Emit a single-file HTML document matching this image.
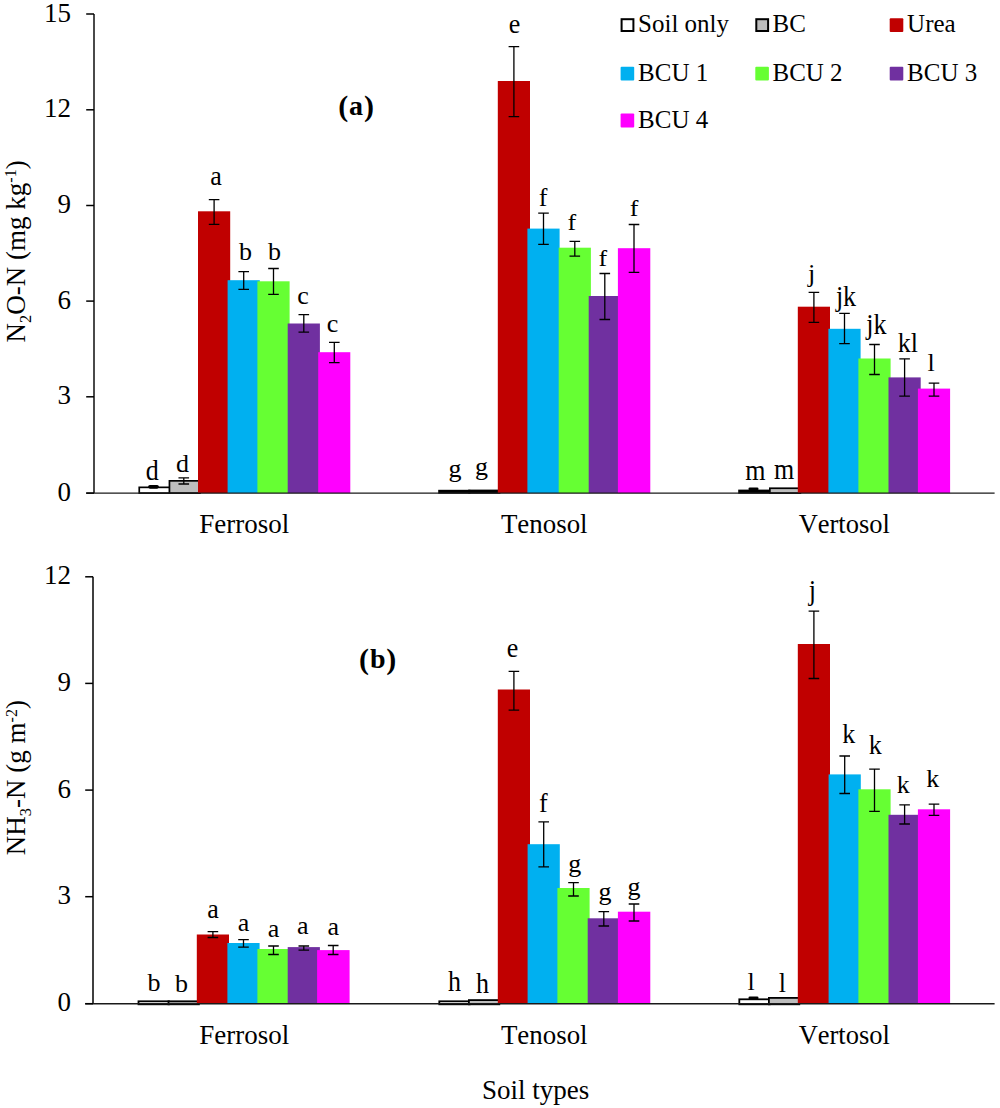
<!DOCTYPE html><html><head><meta charset="utf-8"><title>N2O-N and NH3-N by soil type</title><style>html,body{margin:0;padding:0;background:#fff;width:1000px;height:1108px;overflow:hidden}svg{display:block}text{font-family:"Liberation Serif", serif;fill:#000;font-kerning:none}</style></head><body>
<svg width="1000" height="1108" viewBox="0 0 1000 1108">
<rect width="1000" height="1108" fill="#fff"/>
<rect x="139.25" y="487.35" width="30.5" height="5.75" fill="#ffffff" stroke="#000" stroke-width="1.7"/>
<rect x="169.45" y="480.85" width="30.5" height="12.25" fill="#bdbdbd" stroke="#000" stroke-width="1.7"/>
<rect x="198" y="211.3" width="32.2" height="281.8" fill="#c00000"/>
<rect x="227.6" y="280.2" width="32.2" height="212.9" fill="#00b0f0"/>
<rect x="257.4" y="281.3" width="32.2" height="211.8" fill="#66ff33"/>
<rect x="287.7" y="323.5" width="32.2" height="169.6" fill="#7030a0"/>
<rect x="318.2" y="352.2" width="32.1" height="140.9" fill="#ff00ff"/>
<rect x="438.2" y="489.8" width="32.2" height="3.9" fill="#000"/>
<rect x="468.2" y="489.6" width="32.2" height="4.1" fill="#000"/>
<rect x="497.8" y="81" width="32.2" height="412.1" fill="#c00000"/>
<rect x="527.4" y="228.6" width="32.2" height="264.5" fill="#00b0f0"/>
<rect x="558.7" y="247.7" width="32.2" height="245.4" fill="#66ff33"/>
<rect x="588.7" y="296" width="32.2" height="197.1" fill="#7030a0"/>
<rect x="617.9" y="248.2" width="32.4" height="244.9" fill="#ff00ff"/>
<rect x="738.2" y="489.6" width="32.2" height="4.1" fill="#000"/>
<rect x="769.85" y="488.25" width="30.5" height="4.85" fill="#bdbdbd" stroke="#000" stroke-width="1.7"/>
<rect x="797.8" y="306.7" width="32.2" height="186.4" fill="#c00000"/>
<rect x="828.4" y="328.8" width="32.2" height="164.3" fill="#00b0f0"/>
<rect x="858.4" y="358.5" width="32.2" height="134.6" fill="#66ff33"/>
<rect x="888.5" y="377.4" width="32.2" height="115.7" fill="#7030a0"/>
<rect x="917.9" y="388.6" width="32.2" height="104.5" fill="#ff00ff"/>
<path d="M149.93 486.85H157.12" stroke="#000" stroke-width="3.6" stroke-linecap="round"/>
<path d="M183.78 477.8V484M178.47 477.8H189.08M178.47 484H189.08" stroke="#000" stroke-width="1.3" fill="none"/>
<path d="M214.1 199.6V224.3M208.8 199.6H219.4M208.8 224.3H219.4" stroke="#000" stroke-width="1.3" fill="none"/>
<path d="M243.7 271.7V289.4M238.4 271.7H249M238.4 289.4H249" stroke="#000" stroke-width="1.3" fill="none"/>
<path d="M273.5 268.5V294.4M268.2 268.5H278.8M268.2 294.4H278.8" stroke="#000" stroke-width="1.3" fill="none"/>
<path d="M303.8 314.6V332.1M298.5 314.6H309.1M298.5 332.1H309.1" stroke="#000" stroke-width="1.3" fill="none"/>
<path d="M334.3 342.3V362.6M329 342.3H339.6M329 362.6H339.6" stroke="#000" stroke-width="1.3" fill="none"/>
<path d="M513.9 46.7V116.6M508.6 46.7H519.2M508.6 116.6H519.2" stroke="#000" stroke-width="1.3" fill="none"/>
<path d="M543.5 213.2V244.3M538.2 213.2H548.8M538.2 244.3H548.8" stroke="#000" stroke-width="1.3" fill="none"/>
<path d="M574.8 241.3V256.2M569.5 241.3H580.1M569.5 256.2H580.1" stroke="#000" stroke-width="1.3" fill="none"/>
<path d="M604.8 273.5V319.5M599.5 273.5H610.1M599.5 319.5H610.1" stroke="#000" stroke-width="1.3" fill="none"/>
<path d="M634 224.5V272.3M628.7 224.5H639.3M628.7 272.3H639.3" stroke="#000" stroke-width="1.3" fill="none"/>
<path d="M749.92 489H757.12" stroke="#000" stroke-width="2.9" stroke-linecap="round"/>
<path d="M813.9 292.3V322.4M808.6 292.3H819.2M808.6 322.4H819.2" stroke="#000" stroke-width="1.3" fill="none"/>
<path d="M844.5 313.4V343.6M839.2 313.4H849.8M839.2 343.6H849.8" stroke="#000" stroke-width="1.3" fill="none"/>
<path d="M874.5 344.5V374.5M869.2 344.5H879.8M869.2 374.5H879.8" stroke="#000" stroke-width="1.3" fill="none"/>
<path d="M904.6 358.9V396.1M899.3 358.9H909.9M899.3 396.1H909.9" stroke="#000" stroke-width="1.3" fill="none"/>
<path d="M934 383.2V396.1M928.7 383.2H939.3M928.7 396.1H939.3" stroke="#000" stroke-width="1.3" fill="none"/>
<path d="M94 14V493.1" stroke="#4a4a4a" stroke-width="2" fill="none"/>
<path d="M86.2 493.1H994.6" stroke="#1a1a1a" stroke-width="1.4" fill="none"/>
<path d="M86.2 14H94" stroke="#000" stroke-width="1.5"/>
<text x="71.1" y="21.6" text-anchor="end" font-size="27">15</text>
<path d="M86.2 109.8H94" stroke="#000" stroke-width="1.5"/>
<text x="71.1" y="117.4" text-anchor="end" font-size="27">12</text>
<path d="M86.2 205.5H94" stroke="#000" stroke-width="1.5"/>
<text x="71.1" y="213.1" text-anchor="end" font-size="27">9</text>
<path d="M86.2 301.1H94" stroke="#000" stroke-width="1.5"/>
<text x="71.1" y="308.7" text-anchor="end" font-size="27">6</text>
<path d="M86.2 396.8H94" stroke="#000" stroke-width="1.5"/>
<text x="71.1" y="404.4" text-anchor="end" font-size="27">3</text>
<path d="M86.2 493.1H94" stroke="#000" stroke-width="1.5"/>
<text x="71.1" y="500.7" text-anchor="end" font-size="27">0</text>
<text transform="translate(152.2 480.1) scale(1 1.1)" text-anchor="middle" font-size="26">d</text>
<text x="182.4" y="472" text-anchor="middle" font-size="26">d</text>
<text transform="translate(215.9 184.9) scale(1 1.07)" text-anchor="middle" font-size="26">a</text>
<text x="245.5" y="259.7" text-anchor="middle" font-size="26">b</text>
<text x="274.6" y="259.7" text-anchor="middle" font-size="26">b</text>
<text x="303" y="303.5" text-anchor="middle" font-size="26">c</text>
<text x="332.6" y="331.5" text-anchor="middle" font-size="26">c</text>
<text x="455" y="476.6" text-anchor="middle" font-size="26">g</text>
<text x="481.4" y="474.6" text-anchor="middle" font-size="26">g</text>
<text transform="translate(514.4 33.1) scale(1 1.05)" text-anchor="middle" font-size="26">e</text>
<text transform="translate(543 205.9) scale(1 0.93)" text-anchor="middle" font-size="26">f</text>
<text transform="translate(571.9 230.1) scale(1 0.92)" text-anchor="middle" font-size="26">f</text>
<text transform="translate(602.8 265.8) scale(1 0.9)" text-anchor="middle" font-size="26">f</text>
<text transform="translate(634 216.2) scale(1 0.92)" text-anchor="middle" font-size="26">f</text>
<text transform="translate(755.4 480.1) scale(1 1.1)" text-anchor="middle" font-size="26">m</text>
<text transform="translate(784.2 478.5) scale(1 1.1)" text-anchor="middle" font-size="26">m</text>
<text x="811.6" y="281.9" text-anchor="middle" font-size="26">j</text>
<text transform="translate(846 305.5) scale(1 1.12)" text-anchor="middle" font-size="26">jk</text>
<text transform="translate(876.4 333.6) scale(1 1.13)" text-anchor="middle" font-size="26">jk</text>
<text transform="translate(907.8 351.9) scale(1 1.09)" text-anchor="middle" font-size="26">kl</text>
<text x="931.2" y="370.7" text-anchor="middle" font-size="26">l</text>
<text x="244.28" y="532.5" text-anchor="middle" font-size="27.0">Ferrosol</text>
<text x="544.27" y="532.5" text-anchor="middle" font-size="26.9">Tenosol</text>
<text x="844.27" y="532.5" text-anchor="middle" font-size="26.5">Vertosol</text>
<rect x="138.5" y="1001.3" width="30.4" height="3" fill="#ffffff" stroke="#000" stroke-width="1.8"/>
<rect x="168.5" y="1001.3" width="30.4" height="3" fill="#bdbdbd" stroke="#000" stroke-width="1.8"/>
<rect x="196.8" y="934.5" width="32.2" height="69.2" fill="#c00000"/>
<rect x="227.4" y="943" width="32.2" height="60.7" fill="#00b0f0"/>
<rect x="257.4" y="949" width="32.2" height="54.7" fill="#66ff33"/>
<rect x="287.7" y="947.1" width="32.2" height="56.6" fill="#7030a0"/>
<rect x="317.1" y="950.1" width="32.5" height="53.6" fill="#ff00ff"/>
<rect x="439.3" y="1001.3" width="30.4" height="3" fill="#ffffff" stroke="#000" stroke-width="1.8"/>
<rect x="468.9" y="1000.1" width="30.4" height="4.2" fill="#bdbdbd" stroke="#000" stroke-width="1.8"/>
<rect x="497.8" y="689.5" width="32.2" height="314.2" fill="#c00000"/>
<rect x="527.6" y="844.2" width="32.2" height="159.5" fill="#00b0f0"/>
<rect x="557.4" y="888" width="32.2" height="115.7" fill="#66ff33"/>
<rect x="587.7" y="918.3" width="32.2" height="85.4" fill="#7030a0"/>
<rect x="617.9" y="911.7" width="32.4" height="92" fill="#ff00ff"/>
<rect x="739.3" y="999.3" width="30.4" height="5" fill="#ffffff" stroke="#000" stroke-width="1.8"/>
<rect x="768.9" y="997.9" width="30.4" height="6.4" fill="#bdbdbd" stroke="#000" stroke-width="1.8"/>
<rect x="797.8" y="644" width="32.2" height="359.7" fill="#c00000"/>
<rect x="828.6" y="774.4" width="32.2" height="229.3" fill="#00b0f0"/>
<rect x="858.4" y="789.3" width="32.2" height="214.4" fill="#66ff33"/>
<rect x="888.5" y="814.8" width="32.2" height="188.9" fill="#7030a0"/>
<rect x="917.9" y="809.3" width="32.2" height="194.4" fill="#ff00ff"/>
<path d="M212.9 931.7V937.5M207.6 931.7H218.2M207.6 937.5H218.2" stroke="#000" stroke-width="1.3" fill="none"/>
<path d="M243.5 939.6V947.1M238.2 939.6H248.8M238.2 947.1H248.8" stroke="#000" stroke-width="1.3" fill="none"/>
<path d="M273.5 946V954.5M268.2 946H278.8M268.2 954.5H278.8" stroke="#000" stroke-width="1.3" fill="none"/>
<path d="M303.8 946V950.1M298.5 946H309.1M298.5 950.1H309.1" stroke="#000" stroke-width="1.3" fill="none"/>
<path d="M333.2 945.5V954.5M327.9 945.5H338.5M327.9 954.5H338.5" stroke="#000" stroke-width="1.3" fill="none"/>
<path d="M513.9 671.3V710.2M508.6 671.3H519.2M508.6 710.2H519.2" stroke="#000" stroke-width="1.3" fill="none"/>
<path d="M543.7 821.9V866.8M538.4 821.9H549M538.4 866.8H549" stroke="#000" stroke-width="1.3" fill="none"/>
<path d="M573.5 882.7V896M568.2 882.7H578.8M568.2 896H578.8" stroke="#000" stroke-width="1.3" fill="none"/>
<path d="M603.8 911.7V926M598.5 911.7H609.1M598.5 926H609.1" stroke="#000" stroke-width="1.3" fill="none"/>
<path d="M634 904V921M628.7 904H639.3M628.7 921H639.3" stroke="#000" stroke-width="1.3" fill="none"/>
<path d="M749.92 998H757.12" stroke="#000" stroke-width="2.9" stroke-linecap="round"/>
<path d="M813.9 611.1V678.5M808.6 611.1H819.2M808.6 678.5H819.2" stroke="#000" stroke-width="1.3" fill="none"/>
<path d="M844.7 756V793.5M839.4 756H850M839.4 793.5H850" stroke="#000" stroke-width="1.3" fill="none"/>
<path d="M874.5 769.1V811.4M869.2 769.1H879.8M869.2 811.4H879.8" stroke="#000" stroke-width="1.3" fill="none"/>
<path d="M904.6 804.8V824M899.3 804.8H909.9M899.3 824H909.9" stroke="#000" stroke-width="1.3" fill="none"/>
<path d="M934 804.1V815.4M928.7 804.1H939.3M928.7 815.4H939.3" stroke="#000" stroke-width="1.3" fill="none"/>
<path d="M93 576.8V1003.7" stroke="#000" stroke-width="1.5" fill="none"/>
<path d="M85.2 1003.7H994.6" stroke="#1a1a1a" stroke-width="1.4" fill="none"/>
<path d="M85.2 576.8H93" stroke="#000" stroke-width="1.5"/>
<text x="71.1" y="584.4" text-anchor="end" font-size="27">12</text>
<path d="M85.2 683.4H93" stroke="#000" stroke-width="1.5"/>
<text x="71.1" y="691" text-anchor="end" font-size="27">9</text>
<path d="M85.2 790.1H93" stroke="#000" stroke-width="1.5"/>
<text x="71.1" y="797.7" text-anchor="end" font-size="27">6</text>
<path d="M85.2 896.7H93" stroke="#000" stroke-width="1.5"/>
<text x="71.1" y="904.3" text-anchor="end" font-size="27">3</text>
<path d="M85.2 1003.7H93" stroke="#000" stroke-width="1.5"/>
<text x="71.1" y="1011.3" text-anchor="end" font-size="27">0</text>
<text x="153.9" y="991.1" text-anchor="middle" font-size="26">b</text>
<text x="181.4" y="991.6" text-anchor="middle" font-size="26">b</text>
<text transform="translate(213 918.3) scale(1 1.06)" text-anchor="middle" font-size="26">a</text>
<text x="243.5" y="930.5" text-anchor="middle" font-size="26">a</text>
<text x="273.4" y="936.9" text-anchor="middle" font-size="26">a</text>
<text transform="translate(302.8 934.3) scale(1 0.96)" text-anchor="middle" font-size="26">a</text>
<text x="333.3" y="935.2" text-anchor="middle" font-size="26">a</text>
<text transform="translate(454.5 991.1) scale(1 1.14)" text-anchor="middle" font-size="26">h</text>
<text transform="translate(482.4 993.1) scale(1 1.14)" text-anchor="middle" font-size="26">h</text>
<text transform="translate(512.5 657.3) scale(1 1.08)" text-anchor="middle" font-size="26">e</text>
<text transform="translate(543.3 812.4) scale(1 1.07)" text-anchor="middle" font-size="26">f</text>
<text x="574.7" y="871.6" text-anchor="middle" font-size="26">g</text>
<text x="605.1" y="899.9" text-anchor="middle" font-size="26">g</text>
<text x="634" y="895.1" text-anchor="middle" font-size="26">g</text>
<text x="751.2" y="989.7" text-anchor="middle" font-size="26">l</text>
<text transform="translate(782.4 992.3) scale(1 1.08)" text-anchor="middle" font-size="26">l</text>
<text transform="translate(812.3 600.4) scale(1 1.1)" text-anchor="middle" font-size="26">j</text>
<text transform="translate(848.7 742.7) scale(1 1.06)" text-anchor="middle" font-size="26">k</text>
<text transform="translate(875.2 754.1) scale(1 1.03)" text-anchor="middle" font-size="26">k</text>
<text transform="translate(903.3 792.7) scale(1 0.94)" text-anchor="middle" font-size="26">k</text>
<text transform="translate(932.7 786.8) scale(1 0.93)" text-anchor="middle" font-size="26">k</text>
<text x="244.28" y="1043.6" text-anchor="middle" font-size="27.0">Ferrosol</text>
<text x="544.27" y="1043.6" text-anchor="middle" font-size="26.9">Tenosol</text>
<text x="844.27" y="1043.6" text-anchor="middle" font-size="26.5">Vertosol</text>
<text y="115.9" font-size="30" font-weight="bold"><tspan x="338.2">(</tspan><tspan x="349" y="115.3" font-size="28">a</tspan><tspan x="364" y="115.9">)</tspan></text>
<text y="668.9" font-size="30" font-weight="bold"><tspan x="359">(</tspan><tspan x="370" y="668.3" font-size="28">b</tspan><tspan x="386.2" y="668.9">)</tspan></text>
<text transform="translate(24.8 251.4) rotate(-90)" text-anchor="middle" font-size="27">N<tspan font-size="16.5" dy="6">2</tspan><tspan dy="-6">O-N (mg kg</tspan><tspan font-size="16" dy="-9">-1</tspan><tspan dy="9">)</tspan></text>
<text transform="translate(25 777.6) rotate(-90)" text-anchor="middle" font-size="27">NH<tspan font-size="16.5" dy="6">3</tspan><tspan dy="-6">-N (g m</tspan><tspan font-size="16" dy="-8.5">-2</tspan><tspan dy="8.5">)</tspan></text>
<text x="535.6" y="1099" text-anchor="middle" font-size="27">Soil types</text>
<rect x="621.6" y="19.2" width="11.8" height="11.8" fill="#ffffff" stroke="#000" stroke-width="2"/>
<text transform="translate(638.1 32.2) scale(1 0.97)" font-size="25">Soil only</text>
<rect x="756.3" y="19.2" width="11.8" height="11.8" fill="#bdbdbd" stroke="#000" stroke-width="2"/>
<text transform="translate(772.5 32.2) scale(1 0.97)" font-size="25">BC</text>
<rect x="889.7" y="18.2" width="13.6" height="13.8" fill="#c00000" rx="1"/>
<text transform="translate(907.1 32.2) scale(1 0.97)" font-size="25">Urea</text>
<rect x="620.6" y="66.8" width="13.6" height="13.8" fill="#00b0f0" rx="1"/>
<text transform="translate(638.1 80.8) scale(1 0.97)" font-size="25">BCU 1</text>
<rect x="755.3" y="66.8" width="13.6" height="13.8" fill="#66ff33" rx="1"/>
<text transform="translate(772.5 80.8) scale(1 0.97)" font-size="25">BCU 2</text>
<rect x="889.7" y="66.8" width="13.6" height="13.8" fill="#7030a0" rx="1"/>
<text transform="translate(907.1 80.8) scale(1 0.97)" font-size="25">BCU 3</text>
<rect x="620.6" y="113.6" width="13.6" height="13.8" fill="#ff00ff" rx="1"/>
<text transform="translate(638.1 127.6) scale(1 0.97)" font-size="25">BCU 4</text>
</svg></body></html>
